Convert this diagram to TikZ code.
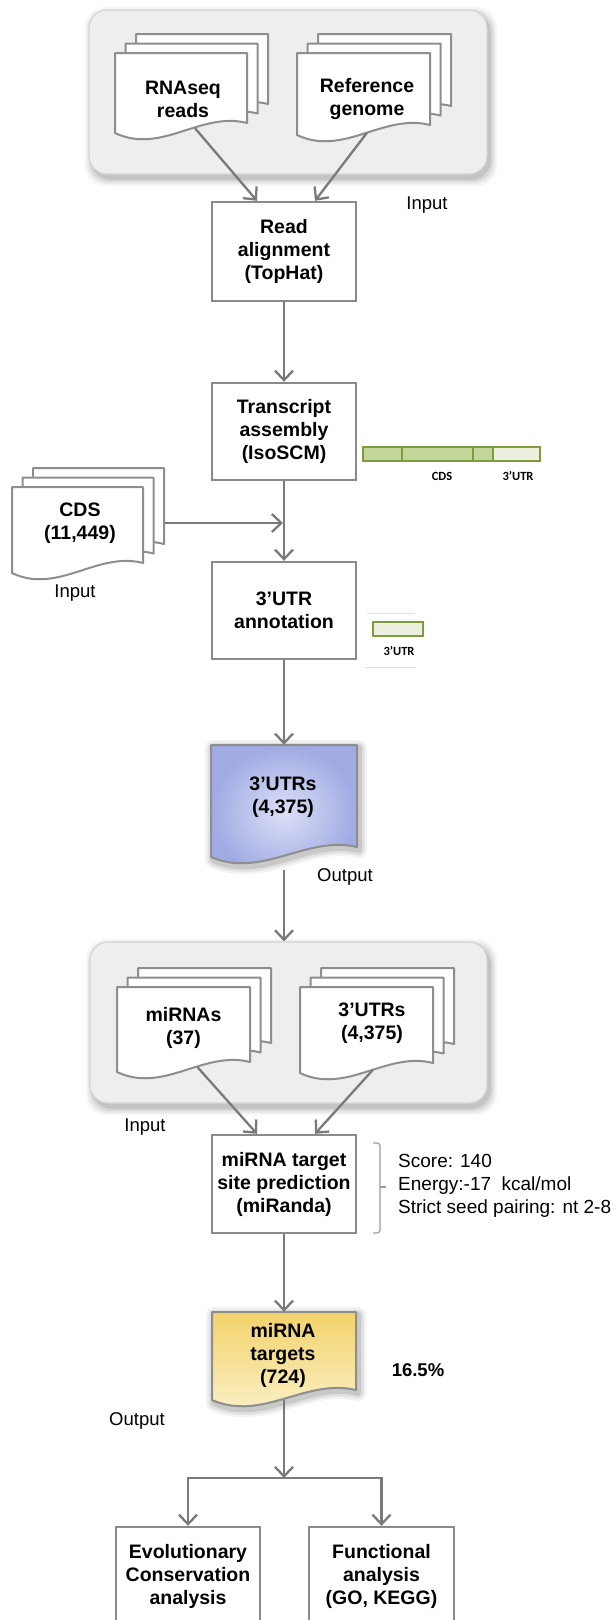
\documentclass[tikz,border=0pt]{standalone}
\usepackage{fontspec}
\setmainfont{Liberation Sans}
\newfontfamily\carlito{Carlito}
\usetikzlibrary{arrows.meta,calc}
\definecolor{linegray}{HTML}{7A7A7A}
\definecolor{boxgray}{HTML}{8A8A8A}
\definecolor{docgray}{HTML}{8E8E8E}
\definecolor{groupfill}{HTML}{EEEEEE}
\definecolor{groupline}{HTML}{D4D4D4}
\definecolor{greenline}{HTML}{7E9C3E}
\definecolor{greenfill}{HTML}{C4D79B}
\definecolor{utrfill}{HTML}{EBF1DE}
\definecolor{blueedge}{HTML}{A0AAE3}
\definecolor{bluecenter}{HTML}{DCE0F7}
\definecolor{yeltop}{HTML}{F2D26A}
\definecolor{yelbot}{HTML}{FCF3CF}
\definecolor{bracegray}{HTML}{9A9A9A}
\definecolor{faint}{HTML}{E2E2E2}
\newcommand\bxfont{\bfseries\fontsize{19.5}{23}\selectfont}
\newcommand\lbfont{\fontsize{18.5}{22}\selectfont}
\newcommand\smfont{\carlito\bfseries\fontsize{12.5}{14}\selectfont}
\tikzset{
  barb/.tip={Straight Barb[length=9.5pt,width=18pt,line width=2.3pt]},
  arr/.style={draw=linegray, line width=2.3pt, -barb},
  procbox/.style={draw=boxgray, line width=2.4pt, fill=white, minimum width=144pt,
    minimum height=98pt, align=center, font=\bxfont, inner sep=0pt},
  docstyle/.style={draw=docgray, line width=2pt, fill=white, line join=round},
  docbox/.style={draw=none, inner sep=0pt},
  doctext/.style={font=\bxfont, align=center, inner sep=0pt},
  groupbox/.style={draw=groupline, fill=groupfill, line width=1.2pt, rounded corners=18pt, inner sep=0pt},
  lbl/.style={font=\lbfont, inner sep=0pt},
  boldlbl/.style={font=\bfseries\fontsize{18.5}{22}\selectfont, inner sep=0pt},
  smalllbl/.style={font=\smfont, inner sep=0pt},
  crit/.style={font=\fontsize{19}{23}\selectfont, align=left, inner sep=0pt, anchor=west},
}
\newcommand\docshape[5]{\draw[#1] ({#2},{#3}) -- ({#4},{#3}) -- ({#4},{(#5)-10})
  .. controls ({(#2)+0.65*((#4)-(#2))},{(#5)-22}) and ({(#2)+0.35*((#4)-(#2))},{(#5)+22}) .. ({#2},{#5}) -- cycle;}
\newcommand\docstack[4]{%
  \docshape{docstyle}{(#1)+21}{(#2)-19}{(#3)+21}{(#4)-19}%
  \docshape{docstyle}{(#1)+10.5}{(#2)-9.5}{(#3)+10.5}{(#4)-9.5}%
  \docshape{docstyle}{#1}{#2}{#3}{#4}}
\newcommand\groupshadow[4]{%
  \foreach \sh/\op in {7/0.035, 5/0.05, 3/0.07, 1/0.09}{%
    \fill[black, opacity=\op, rounded corners=20pt] ({(#1)+3-\sh},{(#2)+4-\sh}) rectangle ({(#3)+3+\sh},{(#4)+5+\sh});}}
\newcommand\docglow[4]{%
  \foreach \gw/\gop in {16/0.05, 11/0.07, 6/0.10}{%
    \docshape{draw=black, opacity=\gop, line width=\gw pt, line join=round}{(#1)+2}{(#2)+3}{(#3)+2}{(#4)+3}}}
\begin{document}
\begin{tikzpicture}[x=1pt,y=-1pt]
\useasboundingbox (0,0) rectangle (612,1620);
\clip (0,0) rectangle (612,1620);
\fill[white] (0,0) rectangle (612,1620);

% ---------- first input group ----------
\groupshadow{89}{10}{487}{174}
\node[groupbox, minimum width=398pt, minimum height=164pt] (g1) at (288,92) {};
\docstack{115}{53}{247}{133}
\node[docbox, minimum width=132pt, minimum height=80pt] (rnadoc) at (181,93) {};
\node[doctext] (rnatxt) at (183,99) {RNAseq\\reads};
\docstack{297}{53}{430}{135}
\node[docbox, minimum width=133pt, minimum height=82pt] (refdoc) at (363.5,94) {};
\node[doctext] (reftxt) at (367,99) {Reference\\genome};
\node[lbl] (in1) at (427,205) {Input};

% ---------- main boxes ----------
\node[procbox, minimum height=99pt] (ra) at (284,251.5) {Read\\alignment\\(TopHat)};
\node[procbox, minimum height=97pt] (tr) at (284,431.5) {Transcript\\assembly\\(IsoSCM)};
\node[procbox, minimum height=97pt] (ua) at (284,610.5) {3’UTR\\annotation};

\draw[arr] ([xshift=14pt,yshift=5pt]rnadoc.south) -- ([xshift=-27pt]ra.north);
\draw[arr] ([xshift=3.5pt,yshift=2.5pt]refdoc.south) -- ([xshift=31pt]ra.north);
\draw[arr] (ra.south) -- (tr.north);
\draw[arr] (tr.south) -- (ua.north);

% transcript bar
\draw[draw=greenline, line width=1.5pt, fill=greenfill] (363,447) rectangle (493,461);
\draw[draw=greenline, line width=1.5pt, fill=utrfill] (493,447) rectangle (540,461);
\draw[greenline, line width=1.5pt] (402,447) -- (402,461) (473,447) -- (473,461);
\node[smalllbl] (cdslbl) at (442,476) {CDS};
\node[smalllbl] (utrlbl) at (518,476) {3’UTR};

% CDS input
\docstack{12}{487}{143}{573}
\node[docbox, minimum width=131pt, minimum height=86pt] (cdsdoc) at (77.5,530) {};
\node[doctext] (cdstxt) at (80,523.5) {CDS\\(11,449)};
\node[lbl] (in2) at (75,593) {Input};
\coordinate (j1) at (283,523);
\draw[arr] ([xshift=22pt]cdsdoc.east |- j1) -- (j1);

% 3'UTR icon
\draw[faint, line width=0.8pt] (367,613) -- (415,613);
\draw[draw=greenline, line width=1.8pt, fill=utrfill] (373,622) rectangle (423,636);
\node[smalllbl] (utricon) at (399,651) {3’UTR};
\draw[faint, line width=0.8pt] (365,667) -- (416,667);

% ---------- 3'UTRs output ----------
\docglow{211}{745}{357}{857}
\docshape{draw=docgray, line width=2pt, line join=round, inner color=bluecenter, outer color=blueedge}{211}{745}{357}{857}
\node[docbox, minimum width=146pt, minimum height=112pt] (bluedoc) at (284,801) {};
\node[doctext] (bluetxt) at (283,797.5) {3’UTRs\\(4,375)};
\node[lbl] (out1) at (345,877) {Output};
\draw[arr] (ua.south) -- (bluedoc.north);

% ---------- second input group ----------
\groupshadow{90}{942}{487}{1103}
\node[groupbox, minimum width=397pt, minimum height=161pt] (g2) at (288.5,1022.5) {};
\draw[arr] ([yshift=-13pt]bluedoc.south) -- (bluedoc.south |- g2.north);
\docstack{117}{987}{250}{1072}
\node[docbox, minimum width=133pt, minimum height=85pt] (mirdoc) at (183.5,1029.5) {};
\node[doctext] (mirtxt) at (183.5,1027.5) {miRNAs\\(37)};
\docstack{300}{987}{433}{1073}
\node[docbox, minimum width=133pt, minimum height=86pt] (utrdoc) at (366.5,1030) {};
\node[doctext] (utrtxt) at (372,1023.5) {3’UTRs\\(4,375)};
\node[lbl] (in3) at (145,1127) {Input};

\node[procbox, minimum height=98pt] (mt) at (284,1184) {miRNA target\\site prediction\\(miRanda)};
\draw[arr] ([xshift=14pt,yshift=5pt]mirdoc.south) -- ([xshift=-27pt]mt.north);
\draw[arr] ([xshift=6.5pt,yshift=3.5pt]utrdoc.south) -- ([xshift=31pt]mt.north);

% criteria bracket
\draw[bracegray, line width=1.2pt, rounded corners=3pt] (373,1143) -- (380,1143) -- (380,1233) -- (373,1233);
\draw[bracegray, line width=1.2pt] (380,1187) -- (386,1187);
\node[crit] (crit) at (398,1186) {Score: 140\\Energy:-17 \ kcal/mol\\Strict seed pairing: nt 2-8};

% ---------- miRNA targets ----------
\docglow{212}{1312}{356}{1400}
\docshape{draw=docgray, line width=2pt, line join=round, top color=yeltop, bottom color=yelbot}{212}{1312}{356}{1400}
\node[docbox, minimum width=144pt, minimum height=88pt] (yeldoc) at (284,1356) {};
\node[doctext] (yeltxt) at (283,1355.5) {miRNA\\targets\\(724)};
\draw[arr] (mt.south) -- (yeldoc.north);
\node[boldlbl] (pct) at (418,1370) {16.5\%};
\node[lbl] (out2) at (137,1421) {Output};

% ---------- analyses ----------
\node[procbox] (evo) at (188,1576) {Evolutionary\\Conservation\\analysis};
\node[procbox, minimum width=145pt] (fun) at (381.5,1576) {Functional\\analysis\\(GO, KEGG)};
\coordinate (split) at (284,1478);
\draw[arr] (yeldoc.south) -- (split);
\draw[draw=linegray, line width=2.3pt, barb-barb, line join=miter] (evo.north) -- (evo.north |- split) -- (fun.north |- split) -- (fun.north);
\end{tikzpicture}
\end{document}
